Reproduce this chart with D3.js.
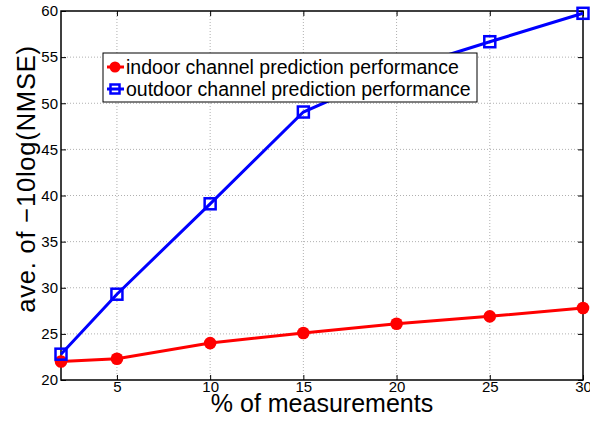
<!DOCTYPE html>
<html>
<head>
<meta charset="utf-8">
<script src="https://cdn.jsdelivr.net/npm/d3@7"></script>
<style>
  body { margin: 0; background: #fff; }
  svg { font-family: "Liberation Sans", Arial, sans-serif; }
</style>
</head>
<body>
<svg id="chart"></svg>
<script>
const measurements = [2, 5, 10, 15, 20, 25, 30];
const indoor = [22.0, 22.3, 24.0, 25.1, 26.1, 26.9, 27.8];
const outdoor = [22.8, 29.3, 39.1, 49.05, 53.5, 56.67, 59.75];
const x_ticks = [5, 10, 15, 20, 25, 30];
const y_ticks = [20, 25, 30, 35, 40, 45, 50, 55, 60];
const series_names = ["indoor channel prediction performance", "outdoor channel prediction performance"];

const width = 590, height = 427;
const margin = {left: 61, right: 7, top: 11, bottom: 47};

const svg = d3.select("#chart").attr("width", width).attr("height", height);

const x = d3.scaleLinear().domain([2, 30]).range([margin.left, width - margin.right]);
const y = d3.scaleLinear().domain([20, 60]).range([height - margin.bottom, margin.top]);

// grid
const grid = svg.append("g");
grid.selectAll("line.gx")
    .data(x_ticks.slice(0, -1))
    .enter().append("line")
    .attr("x1", d => x(d)).attr("x2", d => x(d))
    .attr("y1", y(20)).attr("y2", y(60))
    .attr("stroke", "#b0b0b0").attr("stroke-width", 1).attr("stroke-dasharray", "1,2");
grid.selectAll("line.gy")
    .data(y_ticks.slice(1, -1))
    .enter().append("line")
    .attr("x1", x(2)).attr("x2", x(30))
    .attr("y1", d => y(d)).attr("y2", d => y(d))
    .attr("stroke", "#b0b0b0").attr("stroke-width", 1).attr("stroke-dasharray", "1,2");

// axes (matlab style, ticks inward, box)
const tick_len = 5;
svg.append("g")
   .attr("transform", "translate(0," + y(20) + ")")
   .call(d3.axisBottom(x).tickValues(x_ticks).tickSizeInner(-tick_len).tickSizeOuter(0).tickPadding(1))
   .call(g => g.select(".domain").remove());
svg.append("g")
   .attr("transform", "translate(0," + y(60) + ")")
   .call(d3.axisTop(x).tickValues(x_ticks).tickSizeInner(-tick_len).tickSizeOuter(0).tickFormat(""))
   .call(g => g.select(".domain").remove());
svg.append("g")
   .attr("transform", "translate(" + x(2) + ",0)")
   .call(d3.axisLeft(y).tickValues(y_ticks).tickSizeInner(-tick_len).tickSizeOuter(0).tickPadding(3))
   .call(g => g.select(".domain").remove());
svg.append("g")
   .attr("transform", "translate(" + x(30) + ",0)")
   .call(d3.axisRight(y).tickValues(y_ticks).tickSizeInner(-tick_len).tickSizeOuter(0).tickFormat(""))
   .call(g => g.select(".domain").remove());

svg.selectAll(".tick text").attr("font-size", 15).attr("fill", "#000")
   .attr("font-family", "Liberation Sans, Arial, sans-serif");
svg.selectAll(".tick line").attr("stroke", "#000");

svg.append("rect")
   .attr("x", x(2)).attr("y", y(60))
   .attr("width", x(30) - x(2)).attr("height", y(20) - y(60))
   .attr("fill", "none").attr("stroke", "#000").attr("stroke-width", 1.5);

// lines
const line = d3.line().x(d => x(d[0])).y(d => y(d[1]));
const indoor_pts = measurements.map((m, i) => [m, indoor[i]]);
const outdoor_pts = measurements.map((m, i) => [m, outdoor[i]]);

svg.append("path").datum(indoor_pts).attr("d", line)
   .attr("fill", "none").attr("stroke", "#ff0000").attr("stroke-width", 3);
svg.append("path").datum(outdoor_pts).attr("d", line)
   .attr("fill", "none").attr("stroke", "#0000ff").attr("stroke-width", 3);

svg.selectAll("circle.indoor").data(indoor_pts).enter().append("circle")
   .attr("cx", d => x(d[0])).attr("cy", d => y(d[1])).attr("r", 6.3)
   .attr("fill", "#ff0000");
const sq = 11;
svg.selectAll("rect.outdoor").data(outdoor_pts).enter().append("rect")
   .attr("x", d => x(d[0]) - sq / 2).attr("y", d => y(d[1]) - sq / 2)
   .attr("width", sq).attr("height", sq)
   .attr("fill", "none").attr("stroke", "#0000ff").attr("stroke-width", 2.5);

// axis labels
svg.append("text")
   .attr("x", (x(2) + x(30)) / 2).attr("y", 412)
   .attr("text-anchor", "middle").attr("font-size", 25)
   .text("% of measurements");
svg.append("text")
   .attr("transform", "translate(35,179) rotate(-90)")
   .attr("text-anchor", "middle").attr("font-size", 25.5)
   .attr("letter-spacing", 0.8)
   .text("ave. of \u221210log(NMSE)");

// legend
const legend = svg.append("g");
legend.append("rect")
   .attr("x", 103).attr("y", 53).attr("width", 374).attr("height", 49)
   .attr("fill", "#fff").attr("stroke", "#000").attr("stroke-width", 1);
const leg_rows = [
  {name: series_names[0], color: "#ff0000", shape: "circle"},
  {name: series_names[1], color: "#0000ff", shape: "square"}
];
leg_rows.forEach((r, i) => {
  const cy = 67 + i * 22;
  legend.append("line").attr("x1", 107).attr("x2", 124).attr("y1", cy).attr("y2", cy)
        .attr("stroke", r.color).attr("stroke-width", 3);
  if (r.shape == "circle") {
    legend.append("circle").attr("cx", 115).attr("cy", cy).attr("r", 5.5).attr("fill", r.color);
  } else {
    legend.append("rect").attr("x", 115 - 4.5).attr("y", cy - 4.5).attr("width", 9).attr("height", 9)
          .attr("fill", "none").attr("stroke", r.color).attr("stroke-width", 2.5);
  }
  legend.append("text").attr("x", 126).attr("y", cy + 6.5).attr("font-size", 19.5).text(r.name);
});
</script>
</body>
</html>
